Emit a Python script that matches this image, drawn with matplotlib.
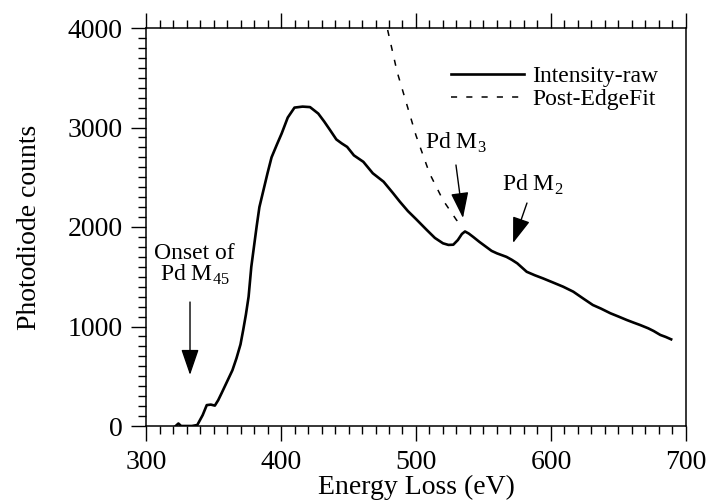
import matplotlib

matplotlib.use("Agg")
import matplotlib.pyplot as plt
from matplotlib.ticker import MultipleLocator

plt.rcParams["font.family"] = ["Liberation Serif", "DejaVu Serif"]
plt.rcParams["mathtext.fontset"] = "custom"
plt.rcParams["mathtext.rm"] = "Liberation Serif"

# raw spectrum
energy = [322, 324, 326, 334, 338, 342, 345, 348, 351, 353.5, 356, 360, 364, 367, 370,
          372, 374, 376, 378, 382, 384, 387, 390, 393, 397, 400.5, 405, 410, 416, 421.5,
          427.6, 432, 436.3, 441, 445, 449, 454, 461, 468, 476, 483, 488, 494, 500, 508,
          514, 520, 524, 527.6, 531, 534, 536.3, 539, 542.4, 547, 552, 556, 560, 564, 567,
          571, 575, 582, 588, 594, 601, 609, 616.5, 624, 631, 637, 644, 650, 656, 661, 666,
          672, 676, 681, 685, 689]
counts = [0, 25, 0, 0, 10, 110, 210, 215, 205, 260, 330, 445, 560, 680, 820,
          965, 1120, 1300, 1600, 2010, 2200, 2370, 2540, 2700, 2830, 2940, 3100, 3200, 3210, 3205,
          3140, 3060, 2975, 2880, 2840, 2805, 2720, 2655, 2540, 2455, 2340, 2255, 2160, 2080, 1970,
          1890, 1836, 1820, 1822, 1869, 1930, 1955, 1935, 1900, 1850, 1800, 1760, 1735, 1715, 1700,
          1670, 1635, 1550, 1515, 1484, 1445, 1400, 1350, 1280, 1216, 1180, 1133, 1100, 1066, 1040, 1015,
          982, 955, 915, 895, 871]

# post-edge fit (dashed)
fit_energy = [479, 486, 493, 500, 510, 520, 530, 534]
fit_counts = [3980, 3560, 3240, 2920, 2540, 2270, 2070, 2010]

fig = plt.figure(figsize=(7.14, 5.01), dpi=100)
ax = fig.add_axes([146 / 714, 1 - 426 / 501, 540 / 714, 398 / 501])

ax.plot(energy, counts, color="black", lw=1.9, label="Intensity-raw")
ax.plot(fit_energy, fit_counts, color="black", lw=1.1, ls=(0, (4, 6)), label="Post-EdgeFit")

ax.set_xlim(300, 700)
ax.set_ylim(0, 4000)
ax.xaxis.set_major_locator(MultipleLocator(100))
ax.xaxis.set_minor_locator(MultipleLocator(10))
ax.yaxis.set_major_locator(MultipleLocator(1000))
ax.yaxis.set_minor_locator(MultipleLocator(100))
ax.tick_params(which="both", direction="out", top=True, right=False, width=1, color="black")
ax.tick_params(which="major", length=11, labelsize=20, pad=6)
ax.tick_params(which="minor", length=6)
ax.tick_params(axis="x", which="both", labeltop=False)
for s in ax.spines.values():
    s.set_linewidth(1.1)

ax.set_xlabel("Energy Loss (eV)", fontsize=20, labelpad=0)
ax.set_ylabel("Photodiode counts", fontsize=20, labelpad=18)

leg = ax.legend(loc="upper right", bbox_to_anchor=(0.97, 0.935), frameon=False, fontsize=17,
                handlelength=3.1, handletextpad=0.35, labelspacing=0.05, borderpad=0)

arrow = dict(arrowstyle="-|>,head_length=1.6,head_width=0.55", color="black", lw=1.0,
             shrinkA=0, shrinkB=0)
ax.annotate("", xy=(332.6, 513), xytext=(332.6, 1246), arrowprops=arrow)
ax.text(336, 1620, "Onset of\nPd M$_{\\mathregular{45}}$", ha="center", va="center",
        fontsize=17, linespacing=0.95)

ax.annotate("", xy=(534.8, 2090), xytext=(529.6, 2623), arrowprops=arrow)
ax.text(507, 2850, "Pd M$_{\\mathregular{3}}$", ha="left", va="center", fontsize=17)

ax.annotate("", xy=(571.9, 1839), xytext=(582.2, 2241), arrowprops=arrow)
ax.text(564, 2420, "Pd M$_{\\mathregular{2}}$", ha="left", va="center", fontsize=17)

fig.savefig("out.png", dpi=100)
